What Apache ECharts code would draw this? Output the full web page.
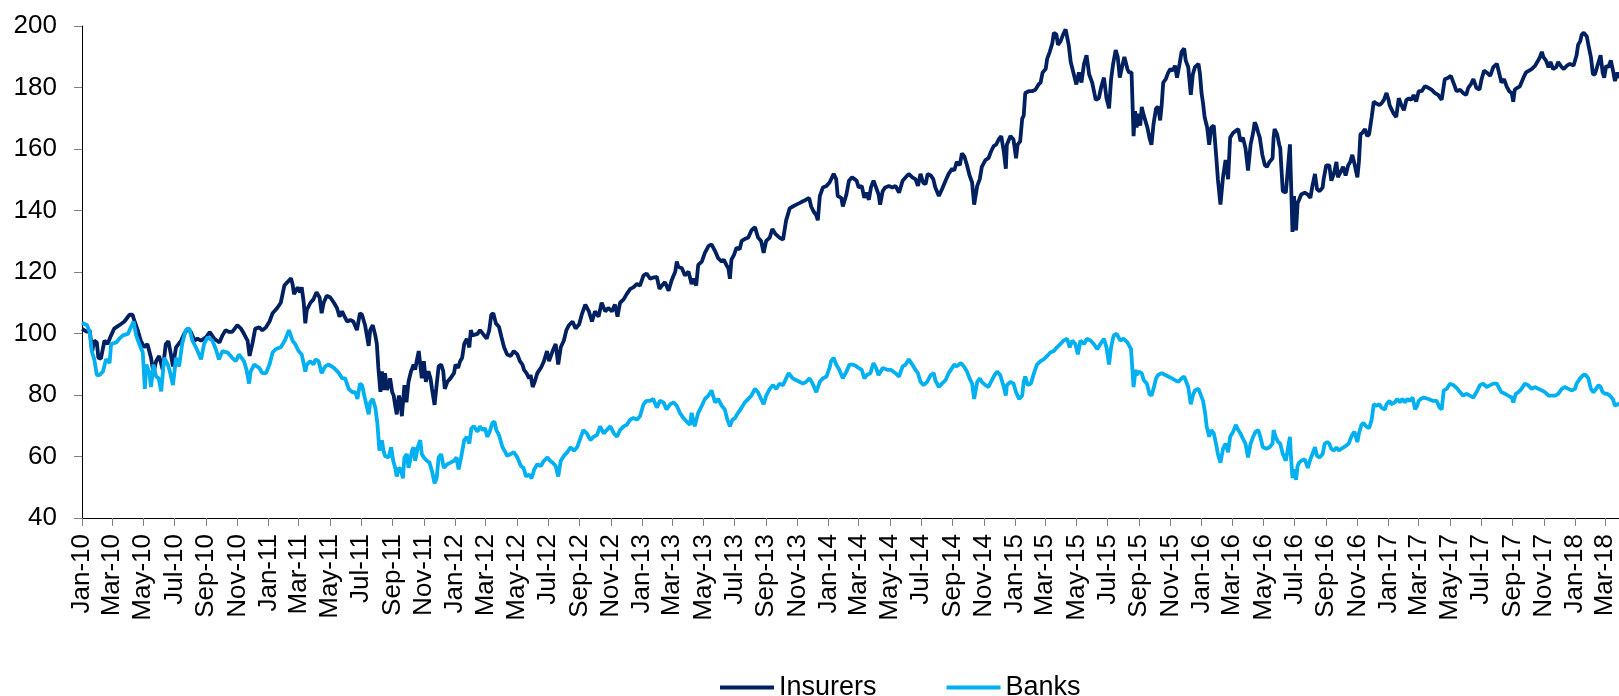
<!DOCTYPE html>
<html><head><meta charset="utf-8">
<script src="https://cdn.jsdelivr.net/npm/echarts/dist/echarts.min.js"></script>
<style>html,body{margin:0;padding:0;background:#fff}#c{width:1619px;height:696px}</style>
</head><body><div id="c"></div>
<script>
const seriesNames = ['Insurers', 'Banks'];
const monthNames = ['Jan','Feb','Mar','Apr','May','Jun','Jul','Aug','Sep','Oct','Nov','Dec'];
const yTicks = [40, 60, 80, 100, 120, 140, 160, 180, 200];
const axisStart = '2010-01-01';
const axisEnd = '2018-03-28';

// Insurers index: [date, value]
const insurers = [
['2010-01-01',101.5],['2010-01-11',100.5],['2010-01-16',101.1],['2010-01-21',94.3],['2010-01-25',97.7],['2010-01-30',97.1],['2010-02-02',92.1],['2010-02-07',91.8],['2010-02-14',97.7],['2010-02-20',96.6],['2010-02-27',99.4],
['2010-03-05',101.6],['2010-03-15',102.7],['2010-03-25',103.9],['2010-04-04',106.1],['2010-04-10',106.1],['2010-04-13',104.4],['2010-04-20',101.1],['2010-04-26',97.7],['2010-05-03',95.5],['2010-05-09',96.6],
['2010-05-16',92.1],['2010-05-21',87.1],['2010-05-26',91],['2010-06-01',92.7],['2010-06-08',88.2],['2010-06-14',96.6],['2010-06-19',97.5],['2010-06-24',93.2],['2010-06-28',89.3],['2010-07-04',95.5],
['2010-07-14',97.7],['2010-07-20',99.9],['2010-07-27',101.6],['2010-08-02',100.5],['2010-08-09',97.7],['2010-08-15',98.3],['2010-08-22',97.7],['2010-09-01',98.8],['2010-09-08',100.5],['2010-09-17',98.3],
['2010-09-27',97.1],['2010-10-03',99.4],['2010-10-09',101.1],['2010-10-16',100.5],['2010-10-22',100.5],['2010-11-01',102.7],['2010-11-08',101.6],['2010-11-14',99.9],['2010-11-21',97.7],['2010-11-25',92.7],
['2010-12-01',97.1],['2010-12-06',101.6],['2010-12-14',102],['2010-12-20',101],['2010-12-27',102],
['2011-01-03',103.9],['2011-01-09',106.6],['2011-01-18',108.3],['2011-01-25',110],['2011-02-01',115.6],['2011-02-07',116.7],['2011-02-14',118],['2011-02-17',116.1],['2011-02-20',112.8],['2011-02-27',115],
['2011-03-04',113.4],['2011-03-07',115],['2011-03-11',110],['2011-03-14',103.3],['2011-03-17',107.7],['2011-03-24',110],['2011-03-30',111.1],['2011-04-05',113.4],['2011-04-11',111.7],['2011-04-15',106.6],
['2011-04-19',110],['2011-04-25',112.3],['2011-05-02',111.7],['2011-05-09',110],['2011-05-15',108.3],['2011-05-20',105.5],['2011-05-25',107.2],['2011-05-30',105.5],['2011-06-04',103.9],['2011-06-10',104.4],
['2011-06-16',103.9],['2011-06-23',101.1],['2011-06-29',106.6],['2011-07-03',106.1],['2011-07-09',102.7],['2011-07-16',96],['2011-07-19',101.1],['2011-07-24',102.7],['2011-07-29',99.4],['2011-08-01',96.6],
['2011-08-04',88.8],['2011-08-08',81],['2011-08-11',87.7],['2011-08-14',81.6],['2011-08-17',87.1],['2011-08-21',81.6],['2011-08-27',85.4],['2011-08-31',81],['2011-09-03',79.8],['2011-09-06',76.5],
['2011-09-09',73.7],['2011-09-13',79.8],['2011-09-16',78.1],['2011-09-19',73.1],['2011-09-24',83.2],['2011-09-28',77.6],['2011-10-02',84.3],['2011-10-07',87.7],['2011-10-12',89.9],['2011-10-15',88.2],
['2011-10-18',91],['2011-10-22',94.3],['2011-10-25',89.9],['2011-10-28',85.4],['2011-11-01',91],['2011-11-05',84.3],['2011-11-10',87.7],['2011-11-14',85.4],['2011-11-17',82],['2011-11-22',76.8],
['2011-11-26',83.2],['2011-11-30',89.3],['2011-12-05',89.9],['2011-12-09',87.7],['2011-12-12',82],['2011-12-17',84.3],['2011-12-23',85.4],['2011-12-30',87.1],
['2012-01-02',89.9],['2012-01-07',88.8],['2012-01-11',91],['2012-01-15',92.1],['2012-01-19',96.6],['2012-01-24',98.3],['2012-01-29',95.5],['2012-02-01',101.1],['2012-02-04',99.4],['2012-02-14',99.9],
['2012-02-19',101.1],['2012-02-27',99.4],['2012-03-03',98.3],['2012-03-08',101.1],['2012-03-12',106.1],['2012-03-16',106.6],['2012-03-21',103.3],['2012-03-27',102.2],['2012-04-01',98.8],['2012-04-06',95.5],
['2012-04-12',93.2],['2012-04-19',92.7],['2012-04-25',94.3],['2012-05-02',93.2],['2012-05-07',91],['2012-05-12',89.9],['2012-05-15',88.2],['2012-05-20',87.1],['2012-05-25',85.4],['2012-05-28',86.5],
['2012-06-01',82.6],['2012-06-05',84.3],['2012-06-10',87.1],['2012-06-17',88.8],['2012-06-23',91],['2012-06-29',94.3],['2012-07-03',91],['2012-07-10',94.3],['2012-07-16',96.6],['2012-07-21',89.9],
['2012-07-26',95.5],['2012-08-01',97.7],['2012-08-06',101.1],['2012-08-11',102.7],['2012-08-18',103.9],['2012-08-24',101.6],['2012-08-31',103],['2012-09-05',106.1],['2012-09-12',109.4],['2012-09-19',107.2],
['2012-09-25',103.9],['2012-10-01',107.2],['2012-10-08',105.5],['2012-10-14',110],['2012-10-21',107.2],['2012-10-27',108.3],['2012-11-03',107.2],['2012-11-09',109.4],['2012-11-14',105.5],['2012-11-19',110],
['2012-11-26',111.1],['2012-12-02',112.8],['2012-12-09',114.5],['2012-12-15',115],['2012-12-22',116.1],['2012-12-28',115.6],
['2013-01-04',118.9],['2013-01-10',119.5],['2013-01-17',117.8],['2013-01-23',118.2],['2013-01-30',118.4],['2013-02-04',114.5],['2013-02-09',115.6],['2013-02-15',116.7],['2013-02-22',113.9],['2013-02-28',117.3],
['2013-03-07',120.1],['2013-03-10',123.4],['2013-03-13',121.7],['2013-03-20',121.2],['2013-03-26',118.9],['2013-04-02',120.1],['2013-04-08',116.1],['2013-04-12',117.8],['2013-04-17',115.6],['2013-04-21',122.3],
['2013-04-28',123.4],['2013-05-04',126.2],['2013-05-11',128.4],['2013-05-17',129],['2013-05-24',126.8],['2013-05-30',124.5],['2013-06-06',123.4],['2013-06-10',124],['2013-06-15',122.3],['2013-06-19',121.2],
['2013-06-22',117.8],['2013-06-25',124],['2013-06-30',125.6],['2013-07-05',127.9],['2013-07-11',127.4],['2013-07-15',130.1],['2013-07-21',130.7],['2013-07-28',131.2],['2013-08-03',133.5],['2013-08-10',134.6],
['2013-08-16',131.2],['2013-08-22',130.1],['2013-08-27',126.2],['2013-09-01',130.1],['2013-09-08',131.2],['2013-09-13',134],['2013-09-19',132.4],['2013-09-27',131.2],['2013-10-04',130.5],['2013-10-10',136.8],
['2013-10-17',140.7],['2013-10-23',141.3],['2013-10-30',141.9],['2013-11-05',142.4],['2013-11-12',143],['2013-11-18',143.5],['2013-11-24',144.1],['2013-11-28',141.3],['2013-12-03',139.6],['2013-12-08',138.5],
['2013-12-11',136.8],['2013-12-15',144.7],['2013-12-21',147.5],['2013-12-28',148],
['2014-01-03',149.1],['2014-01-11',151.9],['2014-01-16',150.2],['2014-01-19',144.7],['2014-01-26',144.1],['2014-01-29',141.3],['2014-02-05',145.2],['2014-02-10',149.7],['2014-02-16',150.8],['2014-02-21',150.2],
['2014-02-25',149.7],['2014-03-01',147.5],['2014-03-07',148],['2014-03-12',144.1],['2014-03-16',145.8],['2014-03-21',143.5],['2014-03-25',147.5],['2014-03-30',149.7],['2014-04-04',147.5],['2014-04-09',145.2],
['2014-04-12',141.9],['2014-04-17',146.3],['2014-04-22',147.5],['2014-04-29',148],['2014-05-06',147.5],['2014-05-12',148],['2014-05-19',145.8],['2014-05-26',149.7],['2014-06-01',150.8],['2014-06-07',151.9],
['2014-06-14',150.8],['2014-06-20',150.2],['2014-06-25',148],['2014-06-30',151.9],['2014-07-05',149.1],['2014-07-10',148.6],['2014-07-14',151.9],['2014-07-20',151.4],['2014-07-25',150.2],['2014-07-29',147.5],
['2014-08-05',144.7],['2014-08-11',146.9],['2014-08-18',149.7],['2014-08-24',151.9],['2014-08-31',153.6],['2014-09-04',153],['2014-09-09',155.8],['2014-09-15',154.7],['2014-09-19',158.6],['2014-09-24',157.5],
['2014-09-29',154.7],['2014-10-04',151.4],['2014-10-09',149.1],['2014-10-13',141.9],['2014-10-19',148],['2014-10-24',150.2],['2014-10-28',154.2],['2014-11-04',156.4],['2014-11-10',157],['2014-11-15',159.2],
['2014-11-20',160.9],['2014-11-25',161.4],['2014-11-30',163.1],['2014-12-05',164.2],['2014-12-10',159.2],['2014-12-14',153.6],['2014-12-16',161.4],['2014-12-23',164.2],['2014-12-29',163.1],
['2015-01-03',157],['2015-01-06',161.4],['2015-01-11',162.5],['2015-01-15',169.8],['2015-01-18',170.9],['2015-01-21',178.2],['2015-01-28',178.8],['2015-02-03',178.8],['2015-02-10',179.3],['2015-02-16',181],
['2015-02-20',181.6],['2015-02-24',184.9],['2015-03-02',186],['2015-03-05',189.4],['2015-03-10',191.6],['2015-03-15',194.4],['2015-03-18',197.8],['2015-03-23',197.2],['2015-03-26',193.9],['2015-03-31',195],
['2015-04-05',197.2],['2015-04-10',198.9],['2015-04-13',199.4],['2015-04-16',193.9],['2015-04-20',188.3],['2015-04-26',184.3],['2015-05-01',181],['2015-05-06',184.9],['2015-05-11',181.6],['2015-05-16',187.7],
['2015-05-21',190.5],['2015-05-26',184.3],['2015-06-01',181.6],['2015-06-08',176],['2015-06-14',176.5],['2015-06-19',180.4],['2015-06-24',183.2],['2015-06-29',176.5],['2015-07-04',173.2],['2015-07-08',182.7],
['2015-07-12',187.7],['2015-07-17',192.2],['2015-07-21',189.9],['2015-07-25',183.2],['2015-07-30',187.1],['2015-08-03',189.9],['2015-08-09',186],['2015-08-12',184.9],['2015-08-17',184.9],['2015-08-21',164.2],
['2015-08-24',172.3],['2015-08-27',167],['2015-08-30',171.5],['2015-09-03',167.6],['2015-09-06',173.7],['2015-09-09',171.5],['2015-09-12',169.8],['2015-09-17',167],['2015-09-21',163.7],['2015-09-25',161.4],
['2015-09-29',168.1],['2015-10-04',173.2],['2015-10-08',173.7],['2015-10-12',169.3],['2015-10-15',174.3],['2015-10-18',181.6],['2015-10-23',182.7],['2015-10-28',184.9],['2015-11-01',186],['2015-11-06',185.5],
['2015-11-10',187.1],['2015-11-14',183.2],['2015-11-19',187.7],['2015-11-23',191.6],['2015-11-28',192.7],['2015-12-01',188.8],['2015-12-03',188.3],['2015-12-06',186.6],['2015-12-11',177.6],['2015-12-15',184.3],
['2015-12-19',186.6],['2015-12-26',187.7],['2015-12-29',184.3],
['2016-01-01',178.2],['2016-01-04',174.8],['2016-01-07',170.4],['2016-01-12',167],['2016-01-16',161.4],['2016-01-20',167],['2016-01-25',167.6],['2016-01-30',157],['2016-02-02',150.2],['2016-02-07',141.9],
['2016-02-12',150.8],['2016-02-17',156.4],['2016-02-22',150.2],['2016-02-26',163.7],['2016-03-03',165.3],['2016-03-08',165.9],['2016-03-13',166.5],['2016-03-17',162.5],['2016-03-22',163.7],['2016-03-27',160.3],
['2016-04-01',153],['2016-04-06',161.4],['2016-04-11',165.3],['2016-04-14',168.7],['2016-04-17',167.6],['2016-04-21',165.3],['2016-04-24',163.7],['2016-04-29',158.1],['2016-05-04',154.7],['2016-05-08',154.2],
['2016-05-13',155.8],['2016-05-19',157],['2016-05-21',163.7],['2016-05-23',166.5],['2016-05-28',164.8],['2016-06-01',161.4],['2016-06-03',160.3],['2016-06-08',146.3],['2016-06-14',145.8],['2016-06-22',161.5],
['2016-06-24',150],['2016-06-27',133],['2016-06-30',144.7],['2016-07-04',133.5],['2016-07-07',142.4],['2016-07-10',143.5],['2016-07-14',145.2],['2016-07-21',145.8],['2016-07-27',145.2],['2016-08-01',144.1],
['2016-08-05',148],['2016-08-10',151.9],['2016-08-14',146.9],['2016-08-19',146.3],['2016-08-25',147.5],['2016-08-27',150.2],['2016-09-01',154.7],['2016-09-07',154.7],['2016-09-11',149.7],['2016-09-16',151.9],
['2016-09-21',155.8],['2016-09-24',150.8],['2016-09-29',152.5],['2016-10-04',154.2],['2016-10-09',151.4],['2016-10-14',154.7],['2016-10-18',155.8],['2016-10-22',158.1],['2016-10-27',154.7],['2016-11-01',150.8],
['2016-11-04',155.8],['2016-11-07',164.8],['2016-11-11',165.3],['2016-11-16',166.5],['2016-11-20',164.2],['2016-11-24',164.8],['2016-11-29',170.4],['2016-12-03',175.4],['2016-12-08',174.8],['2016-12-14',174.3],
['2016-12-18',174.8],['2016-12-23',176],['2016-12-28',178.2],
['2017-01-01',176],['2017-01-03',174.3],['2017-01-06',173.2],['2017-01-11',171.5],['2017-01-16',170.4],['2017-01-21',176.5],['2017-01-26',174.3],['2017-01-31',172.6],['2017-02-05',176],['2017-02-10',176.5],
['2017-02-15',176],['2017-02-19',177.6],['2017-02-24',175.4],['2017-03-01',178.8],['2017-03-07',178.8],['2017-03-13',180.4],['2017-03-20',179.9],['2017-03-26',179.3],['2017-04-02',178.2],['2017-04-08',177.6],
['2017-04-15',176],['2017-04-21',182.7],['2017-04-28',183.2],['2017-05-03',183.8],['2017-05-08',181.6],['2017-05-14',178.8],['2017-05-21',179.3],['2017-05-27',178.2],['2017-06-02',177.6],['2017-06-06',179.9],
['2017-06-11',181],['2017-06-16',182.7],['2017-06-22',179.9],['2017-06-28',179.3],['2017-07-02',182.7],['2017-07-07',185.5],['2017-07-12',184.9],['2017-07-19',183.8],['2017-07-25',186.6],['2017-08-01',187.7],
['2017-08-06',184.3],['2017-08-10',181.6],['2017-08-15',182.7],['2017-08-20',180.4],['2017-08-25',178.8],['2017-08-30',178.2],['2017-09-02',175.4],['2017-09-05',179.3],['2017-09-10',179.9],['2017-09-15',180.4],
['2017-09-22',183.2],['2017-09-27',184.9],['2017-10-03',185.5],['2017-10-08',186],['2017-10-15',187.1],['2017-10-19',188.3],['2017-10-23',189.4],['2017-10-28',191.6],['2017-10-31',189.9],['2017-11-05',188.8],
['2017-11-10',186.6],['2017-11-14',188.3],['2017-11-19',186],['2017-11-25',186.6],['2017-11-29',188.3],['2017-12-06',186.6],['2017-12-10',186],['2017-12-16',187.1],['2017-12-22',187.7],['2017-12-29',187.1],
['2018-01-01',187.7],['2018-01-04',190.5],['2018-01-07',193.9],['2018-01-11',195],['2018-01-14',197.2],['2018-01-18',197.8],['2018-01-24',196.6],['2018-01-27',193.9],['2018-02-01',189.9],['2018-02-05',184.3],
['2018-02-09',184.3],['2018-02-13',186.6],['2018-02-16',188.3],['2018-02-20',190.5],['2018-02-24',184.9],['2018-02-27',183.2],['2018-03-03',187.1],['2018-03-07',186.6],['2018-03-12',188.8],['2018-03-17',184.9],
['2018-03-20',182.1],['2018-03-25',184.9],['2018-03-28',183]
];

// Banks index: [date, value]
const banks = [
['2010-01-01',103.5],['2010-01-11',102.7],['2010-01-16',100.5],['2010-01-20',94.3],['2010-01-25',91.6],['2010-01-30',86.5],['2010-02-04',86.5],['2010-02-11',87.6],['2010-02-17',91.6],['2010-02-24',90.4],
['2010-02-27',96.6],['2010-03-09',97.1],['2010-03-15',98.3],['2010-03-22',99.4],['2010-04-01',99.9],['2010-04-07',102.2],['2010-04-12',103.9],['2010-04-17',99.4],['2010-04-23',96.6],['2010-04-30',93.8],
['2010-05-04',82],['2010-05-07',89.9],['2010-05-13',87.1],['2010-05-16',82.6],['2010-05-21',89.9],['2010-05-26',86],['2010-05-31',85.4],['2010-06-05',81.2],['2010-06-11',92.1],['2010-06-18',89.9],
['2010-06-22',87.6],['2010-06-28',83.2],['2010-07-04',92.1],['2010-07-10',89.3],['2010-07-16',96.6],['2010-07-23',101.1],['2010-07-30',101.6],['2010-08-05',97.7],['2010-08-12',95.5],['2010-08-22',91.6],
['2010-08-28',96.6],['2010-09-04',98.8],['2010-09-13',97.7],['2010-09-20',94.9],['2010-09-26',91.6],['2010-10-03',94.3],['2010-10-13',93.8],['2010-10-22',92.1],['2010-10-29',91],['2010-11-04',93.2],
['2010-11-14',91],['2010-11-19',88.2],['2010-11-24',83.7],['2010-11-27',87.6],['2010-12-04',89.9],['2010-12-14',88.8],['2010-12-20',87.1],['2010-12-27',87.1],
['2011-01-03',89.9],['2011-01-09',93.8],['2011-01-15',94.9],['2011-01-25',95.5],['2011-02-02',97.7],['2011-02-10',101.1],['2011-02-17',97.7],['2011-02-22',96.6],['2011-03-01',94.3],['2011-03-07',93.2],
['2011-03-14',87.6],['2011-03-17',89.9],['2011-03-24',91],['2011-03-30',89.9],['2011-04-03',91.6],['2011-04-09',91],['2011-04-15',87.1],['2011-04-22',89.3],['2011-04-29',89.9],['2011-05-09',88.8],
['2011-05-19',87.1],['2011-05-25',85.4],['2011-05-31',85.4],['2011-06-07',82],['2011-06-14',80.9],['2011-06-20',80.9],['2011-06-24',78.7],['2011-06-29',83.7],['2011-07-03',83.2],['2011-07-09',78.7],
['2011-07-16',73.7],['2011-07-19',77.6],['2011-07-24',78.7],['2011-07-29',75.9],['2011-08-02',70.9],['2011-08-06',61.9],['2011-08-11',65.3],['2011-08-14',61.9],['2011-08-17',60.2],['2011-08-24',59.7],
['2011-08-29',63],['2011-09-02',58.6],['2011-09-06',56.3],['2011-09-09',53.5],['2011-09-13',56.3],['2011-09-17',55.8],['2011-09-21',52.9],['2011-09-24',59.7],['2011-09-29',60.8],['2011-10-02',56.3],
['2011-10-05',58.6],['2011-10-09',61.9],['2011-10-12',63],['2011-10-15',58.6],['2011-10-20',63],['2011-10-25',65.3],['2011-10-28',60.8],['2011-11-01',59.7],['2011-11-07',58.6],['2011-11-12',58],
['2011-11-17',55.2],['2011-11-22',51.3],['2011-11-26',52.9],['2011-11-30',59.7],['2011-12-05',60.8],['2011-12-10',56.3],['2011-12-17',57.5],['2011-12-23',58],['2011-12-30',58.6],
['2012-01-04',59.7],['2012-01-08',55.8],['2012-01-13',59.7],['2012-01-19',65.3],['2012-01-24',66.4],['2012-01-29',64.2],['2012-02-02',69.2],['2012-02-07',69.8],['2012-02-14',68.1],['2012-02-19',69.8],
['2012-02-24',68.6],['2012-02-29',69.2],['2012-03-04',66.4],['2012-03-09',68.1],['2012-03-14',70.9],['2012-03-18',71.4],['2012-03-22',68.6],['2012-03-27',67],['2012-04-03',63],['2012-04-07',61.9],
['2012-04-12',60.2],['2012-04-19',60.8],['2012-04-25',61.4],['2012-05-02',59.7],['2012-05-09',56.9],['2012-05-14',56.3],['2012-05-19',53.5],['2012-05-25',54.1],['2012-05-30',52.9],['2012-06-04',55.8],
['2012-06-10',57.5],['2012-06-17',56.9],['2012-06-23',58.6],['2012-06-30',59.7],['2012-07-05',58.6],['2012-07-10',58],['2012-07-16',56.9],['2012-07-21',53.5],['2012-07-26',58.6],['2012-08-01',60.2],
['2012-08-08',61.4],['2012-08-14',63],['2012-08-21',61.9],['2012-08-27',63],['2012-09-01',65.3],['2012-09-08',68.6],['2012-09-15',67.5],['2012-09-22',65.3],['2012-09-28',66.4],['2012-10-05',67],
['2012-10-11',69.8],['2012-10-18',67.5],['2012-10-24',68.6],['2012-10-31',69.8],['2012-11-07',67.5],['2012-11-13',66.4],['2012-11-19',68.6],['2012-11-26',69.8],['2012-12-02',70.3],['2012-12-09',72],
['2012-12-15',72.5],['2012-12-22',72],['2012-12-28',73.1],
['2013-01-04',77],['2013-01-10',78.1],['2013-01-17',78.1],['2013-01-23',78.7],['2013-01-30',75.9],['2013-02-05',78.1],['2013-02-12',77.6],['2013-02-18',75.3],['2013-02-25',77],['2013-03-04',77.6],
['2013-03-10',76.5],['2013-03-16',74.2],['2013-03-23',72.5],['2013-03-29',71.4],['2013-04-05',70.3],['2013-04-08',74.2],['2013-04-14',69.8],['2013-04-21',74.2],['2013-04-28',76.5],['2013-05-04',78.7],
['2013-05-11',79.8],['2013-05-17',81.5],['2013-05-24',77.6],['2013-05-30',78.7],['2013-06-06',76.5],['2013-06-12',75.3],['2013-06-17',72],['2013-06-22',69.8],['2013-06-27',72],['2013-07-02',72.5],
['2013-07-08',74.2],['2013-07-15',75.9],['2013-07-21',77.6],['2013-07-28',78.7],['2013-08-03',79.8],['2013-08-10',82],['2013-08-16',80.9],['2013-08-22',78.7],['2013-08-27',77],['2013-09-01',79.8],
['2013-09-08',82],['2013-09-14',83.2],['2013-09-21',82],['2013-09-27',83.7],['2013-10-04',83.2],['2013-10-10',85.4],['2013-10-15',87.1],['2013-10-23',85.4],['2013-10-30',84.8],['2013-11-05',84.3],
['2013-11-12',83.7],['2013-11-18',84.3],['2013-11-25',85.4],['2013-12-01',83.7],['2013-12-08',80.9],['2013-12-15',84.3],['2013-12-21',85.4],['2013-12-28',86],
['2014-01-03',88.8],['2014-01-06',91],['2014-01-11',92.1],['2014-01-16',89.9],['2014-01-22',88.2],['2014-01-29',85.4],['2014-02-05',87.6],['2014-02-11',89.9],['2014-02-17',89.9],['2014-02-24',89.4],
['2014-03-01',88.8],['2014-03-07',88.2],['2014-03-12',85.4],['2014-03-17',86.5],['2014-03-24',87.1],['2014-03-30',90.4],['2014-04-04',88.8],['2014-04-09',86.5],['2014-04-12',86],['2014-04-17',88.8],
['2014-04-26',88.2],['2014-05-03',88.2],['2014-05-12',87.1],['2014-05-19',86],['2014-05-26',89.3],['2014-06-01',89.9],['2014-06-07',91.6],['2014-06-14',89.9],['2014-06-20',88.2],['2014-06-25',87.1],
['2014-06-30',84.3],['2014-07-06',83.2],['2014-07-13',84.3],['2014-07-20',86.5],['2014-07-26',87.1],['2014-07-29',84.8],['2014-08-05',82.6],['2014-08-11',83.7],['2014-08-18',84.8],['2014-08-24',87.1],
['2014-08-31',88.8],['2014-09-04',89.9],['2014-09-09',89.3],['2014-09-17',90.4],['2014-09-23',89.3],['2014-09-29',87.6],['2014-10-04',85.4],['2014-10-09',83.7],['2014-10-13',78.7],['2014-10-19',84.3],
['2014-10-24',85.4],['2014-10-28',84.3],['2014-11-04',83.2],['2014-11-10',82.6],['2014-11-15',84.3],['2014-11-22',86.5],['2014-11-27',87.6],['2014-12-03',86.5],['2014-12-10',82.6],['2014-12-14',79.8],
['2014-12-16',83.2],['2014-12-23',84.3],['2014-12-29',83.7],
['2015-01-03',80.9],['2015-01-09',78.7],['2015-01-15',79.8],['2015-01-18',84.3],['2015-01-21',86],['2015-01-26',83.2],['2015-02-01',83.7],['2015-02-07',87.1],['2015-02-13',89.9],['2015-02-20',91],
['2015-02-26',91.6],['2015-03-05',92.7],['2015-03-11',93.8],['2015-03-18',94.3],['2015-03-24',95.5],['2015-03-31',96.6],['2015-04-06',97.7],['2015-04-13',98.3],['2015-04-18',95.5],['2015-04-23',97.7],
['2015-04-29',96.6],['2015-05-04',93.2],['2015-05-09',97.7],['2015-05-16',96.6],['2015-05-22',98.3],['2015-05-29',97.7],['2015-06-04',96.6],['2015-06-11',94.9],['2015-06-17',96.6],['2015-06-24',98.3],
['2015-06-29',95.5],['2015-07-04',89.9],['2015-07-08',95.5],['2015-07-13',99.4],['2015-07-19',99.9],['2015-07-26',97.7],['2015-08-01',98.3],['2015-08-09',97.1],['2015-08-16',94.9],['2015-08-21',82.6],
['2015-08-25',88.2],['2015-08-27',86.5],['2015-08-31',87.6],['2015-09-03',87.6],['2015-09-06',87.1],['2015-09-10',84.8],['2015-09-16',83.7],['2015-09-21',80.4],['2015-09-25',79.8],['2015-09-29',82],
['2015-10-04',85.4],['2015-10-08',86.5],['2015-10-15',87.1],['2015-10-22',86.5],['2015-10-28',86],['2015-11-04',85.4],['2015-11-10',84.8],['2015-11-17',84.3],['2015-11-23',85.4],['2015-11-28',86],
['2015-12-01',85.4],['2015-12-06',82.6],['2015-12-11',77],['2015-12-15',79.8],['2015-12-19',81.5],['2015-12-26',82],['2015-12-31',79.8],
['2016-01-04',78.1],['2016-01-08',74.2],['2016-01-11',69.8],['2016-01-16',66.4],['2016-01-20',68.6],['2016-01-25',67.5],['2016-01-30',63.6],['2016-02-02',60.8],['2016-02-07',58],['2016-02-12',62.5],
['2016-02-17',64.2],['2016-02-22',61.4],['2016-02-26',66.4],['2016-03-03',68.1],['2016-03-08',70.3],['2016-03-13',68.6],['2016-03-17',67.5],['2016-03-22',65.8],['2016-03-27',64.2],['2016-04-01',59.7],
['2016-04-06',64.2],['2016-04-11',66.4],['2016-04-16',68.1],['2016-04-21',68.6],['2016-04-25',66.4],['2016-04-30',63],['2016-05-07',62.5],['2016-05-13',63],['2016-05-19',64.2],['2016-05-21',68.6],
['2016-05-25',66.4],['2016-05-30',64.7],['2016-06-03',64.2],['2016-06-08',60.8],['2016-06-14',58.6],['2016-06-22',66.4],['2016-06-24',60],['2016-06-27',53],['2016-06-30',55.8],['2016-07-04',52.4],
['2016-07-07',56.9],['2016-07-10',58],['2016-07-14',58.6],['2016-07-21',59.1],['2016-07-27',56.3],['2016-08-01',59.1],['2016-08-05',60.8],['2016-08-10',63],['2016-08-14',60.2],['2016-08-19',59.7],
['2016-08-25',60.8],['2016-08-29',64.2],['2016-09-03',64.7],['2016-09-07',64.2],['2016-09-11',62.5],['2016-09-16',61.9],['2016-09-21',63],['2016-09-26',61.9],['2016-09-30',62.5],['2016-10-05',63],
['2016-10-10',63.5],['2016-10-15',64.2],['2016-10-20',66.4],['2016-10-26',68.1],['2016-11-01',64.7],['2016-11-04',67.5],['2016-11-09',70.3],['2016-11-13',70.9],['2016-11-18',69.8],['2016-11-24',69.2],
['2016-11-29',72],['2016-12-03',77],['2016-12-08',76.5],['2016-12-14',77],['2016-12-18',75.9],['2016-12-25',75.3],['2016-12-28',77],
['2017-01-03',78.1],['2017-01-06',77],['2017-01-13',77.6],['2017-01-18',78.7],['2017-01-23',77.6],['2017-01-28',78.7],['2017-02-02',77.6],['2017-02-07',78.7],['2017-02-12',78.1],['2017-02-17',79.2],
['2017-02-22',75.3],['2017-02-26',76.5],['2017-03-01',78.1],['2017-03-05',78.7],['2017-03-11',79.2],['2017-03-20',78.7],['2017-03-28',78.1],['2017-04-05',78.1],['2017-04-11',75.9],['2017-04-15',75.3],
['2017-04-19',81.5],['2017-04-25',82],['2017-05-01',83.7],['2017-05-08',83.2],['2017-05-16',82],['2017-05-21',80.9],['2017-05-27',79.8],['2017-06-03',80.4],['2017-06-09',79.8],['2017-06-16',79.2],
['2017-06-22',80.9],['2017-06-29',83.2],['2017-07-05',83.7],['2017-07-12',82.6],['2017-07-19',83.2],['2017-07-25',83.7],['2017-08-01',83.7],['2017-08-06',82],['2017-08-10',80.9],['2017-08-17',80.4],
['2017-08-23',79.8],['2017-08-30',79.2],['2017-09-02',77.6],['2017-09-07',80.4],['2017-09-12',80.9],['2017-09-18',82],['2017-09-25',83.7],['2017-10-01',83.2],['2017-10-08',82],['2017-10-15',82.6],
['2017-10-21',82],['2017-10-28',81.5],['2017-11-03',80.9],['2017-11-10',79.8],['2017-11-16',79.8],['2017-11-23',79.8],['2017-11-29',80.4],['2017-12-06',82],['2017-12-12',82.6],['2017-12-19',82],
['2017-12-25',81.5],
['2018-01-01',82],['2018-01-04',83.7],['2018-01-11',85.4],['2018-01-17',86.5],['2018-01-22',86.5],['2018-01-27',85.4],['2018-02-01',82],['2018-02-06',80.9],['2018-02-11',82],['2018-02-16',83.2],
['2018-02-20',82.6],['2018-02-24',80.9],['2018-03-01',80.4],['2018-03-05',80.4],['2018-03-10',79.8],['2018-03-16',78.7],['2018-03-20',76.5],['2018-03-25',77],['2018-03-28',77]
];

// daily category axis
const days = [];
for (let t = Date.parse(axisStart + 'T00:00:00Z'); t <= Date.parse(axisEnd + 'T00:00:00Z'); t += 86400000) {
  days.push(new Date(t).toISOString().slice(0, 10));
}
const dayIndex = {};
days.forEach((s, i) => { dayIndex[s] = i; });
const toPairs = rows => rows.map(r => [dayIndex[r[0]], r[1]]);
const isTick = (i, v) => v.slice(8) === '01' && (parseInt(v.slice(5, 7), 10) % 2 === 1);
const fmt = v => monthNames[parseInt(v.slice(5, 7), 10) - 1] + '-' + v.slice(2, 4);
const FONT = '"Liberation Sans", Arial, sans-serif';

const chart = echarts.init(document.getElementById('c'), null, { renderer: 'canvas' });
chart.setOption({
  animation: false,
  backgroundColor: '#ffffff',
  grid: { left: 82, right: 0, top: 26, bottom: 178, containLabel: false },
  legend: {
    data: seriesNames,
    left: 715, top: 669,
    icon: 'rect', itemWidth: 54, itemHeight: 4, itemGap: 70,
    textStyle: { fontSize: 27, color: '#000', fontFamily: FONT }
  },
  xAxis: {
    type: 'category', data: days, boundaryGap: false,
    axisLine: { show: true, lineStyle: { color: '#000', width: 1 } },
    axisTick: { show: true, interval: isTick, length: 8, lineStyle: { color: '#808080' } },
    axisLabel: { interval: isTick, rotate: 90, fontSize: 26, color: '#000', fontFamily: FONT, margin: 16, formatter: fmt },
    splitLine: { show: false }
  },
  yAxis: {
    type: 'value', min: yTicks[0], max: yTicks[yTicks.length - 1], interval: 20,
    axisLine: { show: true, lineStyle: { color: '#000', width: 1 } },
    axisTick: { show: true, length: 8, lineStyle: { color: '#808080' } },
    axisLabel: { fontSize: 26, color: '#000', fontFamily: FONT, margin: 25 },
    splitLine: { show: false }
  },
  series: [
    { name: seriesNames[0], type: 'line', data: toPairs(insurers), showSymbol: false, symbol: 'none',
      lineStyle: { color: '#002060', width: 3.8 }, itemStyle: { color: '#002060' } },
    { name: seriesNames[1], type: 'line', data: toPairs(banks), showSymbol: false, symbol: 'none',
      lineStyle: { color: '#00B0F0', width: 3.8 }, itemStyle: { color: '#00B0F0' } }
  ]
});
</script></body></html>
